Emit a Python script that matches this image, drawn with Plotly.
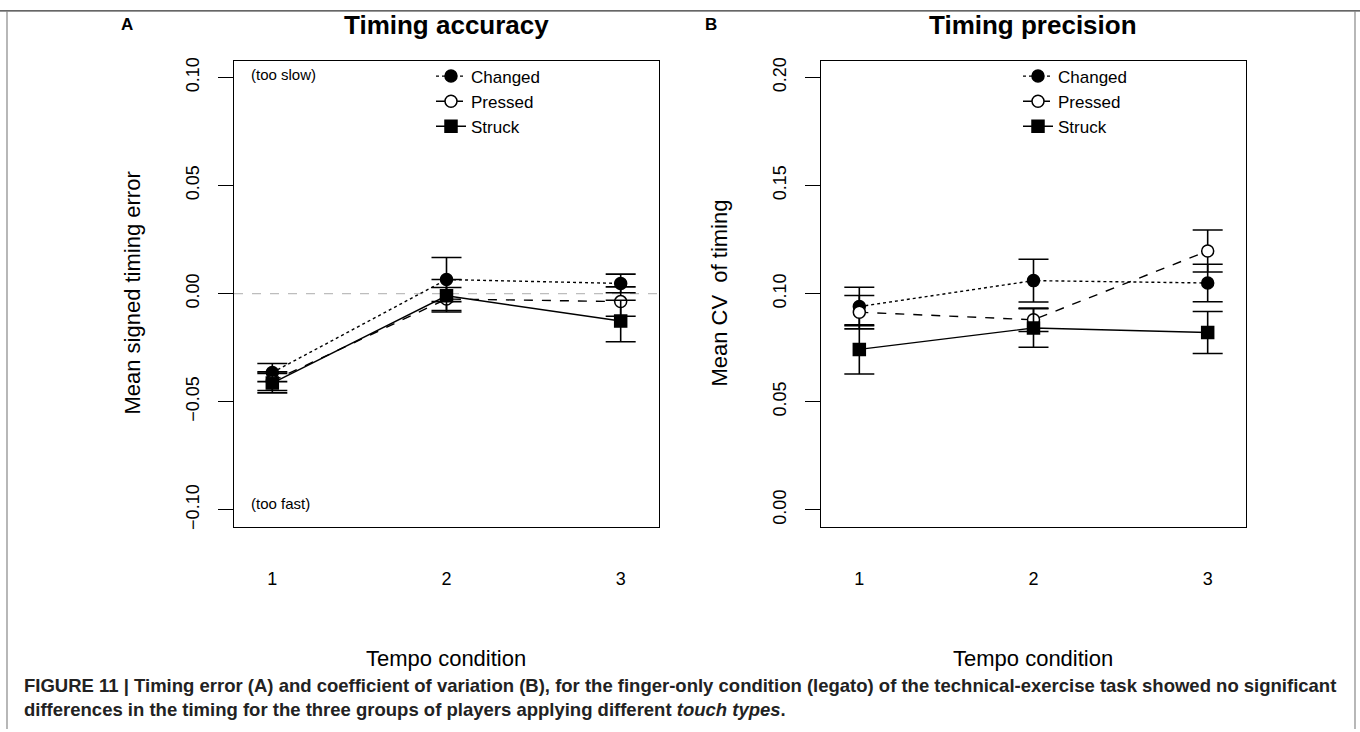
import plotly.graph_objects as go

# ---------------- data ----------------
tempo = [1, 2, 3]
tick_x = ["1", "2", "3"]

acc_changed = [-0.0365, 0.0065, 0.0047]
acc_changed_err = [0.0042, 0.0102, 0.0043]
acc_pressed = [-0.0405, -0.0025, -0.0037]
acc_pressed_err = [0.0043, 0.0053, 0.0068]
acc_struck = [-0.0414, -0.0010, -0.0127]
acc_struck_err = [0.0045, 0.0075, 0.0096]

prec_changed = [0.0940, 0.1060, 0.1049]
prec_changed_err = [0.0089, 0.0099, 0.0087]
prec_pressed = [0.0914, 0.0879, 0.1197]
prec_pressed_err = [0.0077, 0.0054, 0.0097]
prec_struck = [0.0742, 0.0841, 0.0820]
prec_struck_err = [0.0114, 0.0089, 0.0097]

acc_ticks = [-0.10, -0.05, 0.00, 0.05, 0.10]
acc_ticktext = ["\u22120.10", "\u22120.05", "0.00", "0.05", "0.10"]
prec_ticks = [0.00, 0.05, 0.10, 0.15, 0.20]
prec_ticktext = ["0.00", "0.05", "0.10", "0.15", "0.20"]

series_names = ["Changed", "Pressed", "Struck"]

# ---------------- styling ----------------
FONT = "Liberation Sans, Arial, Helvetica, sans-serif"
styles = {
    "Changed": dict(dash="dot", symbol="circle", fill="black"),
    "Pressed": dict(dash="dash", symbol="circle", fill="white"),
    "Struck": dict(dash="solid", symbol="square", fill="black"),
}

fig = go.Figure()


def add_series(name, y, err, xa, ya, legend):
    st = styles[name]
    fig.add_trace(go.Scatter(
        x=tempo, y=y, name=name, mode="lines+markers",
        xaxis=xa, yaxis=ya, legend=legend,
        line=dict(color="black", width=1.4, dash=st["dash"]),
        marker=dict(symbol=st["symbol"], size=12, color=st["fill"],
                    line=dict(color="black", width=1.5)),
        error_y=dict(type="data", array=err, visible=True, color="black",
                     thickness=1.6, width=15),
    ))


add_series("Changed", acc_changed, acc_changed_err, "x", "y", "legend")
add_series("Pressed", acc_pressed, acc_pressed_err, "x", "y", "legend")
add_series("Struck", acc_struck, acc_struck_err, "x", "y", "legend")
add_series("Changed", prec_changed, prec_changed_err, "x2", "y2", "legend2")
add_series("Pressed", prec_pressed, prec_pressed_err, "x2", "y2", "legend2")
add_series("Struck", prec_struck, prec_struck_err, "x2", "y2", "legend2")

W, H = 1360, 732
ydom = [(H - 528) / H, (H - 58) / H]
xdomA = [234 / W, 659 / W]
xdomB = [821 / W, 1246 / W]

xaxis_common = dict(
    range=[0.78, 3.22], tickvals=tempo, ticktext=tick_x,
    showline=True, mirror=True, linecolor="black", linewidth=1.4,
    ticks="", showgrid=False, zeroline=False,
    tickfont=dict(family=FONT, size=18, color="black"),
    ticklabelstandoff=36,
)
yaxis_common = dict(
    showline=True, mirror=True, linecolor="black", linewidth=1.4,
    ticks="outside", ticklen=15, tickwidth=1.3, tickcolor="black",
    showgrid=False, zeroline=False, tickangle=-90,
    tickfont=dict(family=FONT, size=18, color="black"),
    ticklabelstandoff=12,
)

fig.update_layout(
    width=W, height=H,
    margin=dict(l=0, r=0, t=0, b=0),
    paper_bgcolor="white", plot_bgcolor="white",
    font=dict(family=FONT, color="black"),
    xaxis=dict(domain=xdomA, anchor="y", **xaxis_common),
    yaxis=dict(domain=ydom, anchor="x", range=[-0.1078, 0.1078],
               tickvals=acc_ticks, ticktext=acc_ticktext, **yaxis_common),
    xaxis2=dict(domain=xdomB, anchor="y2", **xaxis_common),
    yaxis2=dict(domain=ydom, anchor="x2", range=[-0.0078, 0.2078],
                tickvals=prec_ticks, ticktext=prec_ticktext, **yaxis_common),
    legend=dict(x=431 / W, y=(H - 56) / H, xanchor="left", yanchor="top",
                bgcolor="rgba(0,0,0,0)", font=dict(family=FONT, size=17),
                itemwidth=30, tracegroupgap=0),
    legend2=dict(x=1018 / W, y=(H - 56) / H, xanchor="left", yanchor="top",
                 bgcolor="rgba(0,0,0,0)", font=dict(family=FONT, size=17),
                 itemwidth=30, tracegroupgap=0),
    showlegend=True,
)

# zero reference line in panel A
fig.add_shape(type="line", xref="x domain", yref="y", x0=0, x1=1, y0=0, y1=0,
              line=dict(color="#bdbdbd", width=1.4, dash="dash"), layer="below")

# frame lines of the figure page
fig.add_shape(type="line", xref="paper", yref="paper", x0=0, x1=1,
              y0=(H - 8) / H, y1=(H - 8) / H, line=dict(color="#333333", width=1.2))
fig.add_shape(type="line", xref="paper", yref="paper", x0=7 / W, x1=7 / W,
              y0=0, y1=(H - 8) / H, line=dict(color="#888888", width=1.2))
fig.add_shape(type="line", xref="paper", yref="paper", x0=1355 / W, x1=1355 / W,
              y0=0, y1=(H - 8) / H, line=dict(color="#888888", width=1.2))

ann = []
# titles
ann.append(dict(text="<b>Timing accuracy</b>", x=446 / W, y=(H - 22) / H,
                xref="paper", yref="paper", showarrow=False,
                font=dict(family=FONT, size=26), xanchor="center", yanchor="middle"))
ann.append(dict(text="<b>Timing precision</b>", x=1033 / W, y=(H - 22) / H,
                xref="paper", yref="paper", showarrow=False,
                font=dict(family=FONT, size=26), xanchor="center", yanchor="middle"))
ann.append(dict(text="<b>A</b>", x=127 / W, y=(H - 22) / H, xref="paper", yref="paper",
                showarrow=False, font=dict(family=FONT, size=17),
                xanchor="center", yanchor="middle"))
ann.append(dict(text="<b>B</b>", x=711 / W, y=(H - 22) / H, xref="paper", yref="paper",
                showarrow=False, font=dict(family=FONT, size=17),
                xanchor="center", yanchor="middle"))
# axis titles
ann.append(dict(text="Mean signed timing error", x=133 / W, y=(H - 293) / H,
                xref="paper", yref="paper", showarrow=False, textangle=-90,
                font=dict(family=FONT, size=22), xanchor="center", yanchor="middle"))
ann.append(dict(text="Mean CV  of timing", x=720 / W, y=(H - 293) / H,
                xref="paper", yref="paper", showarrow=False, textangle=-90,
                font=dict(family=FONT, size=22), xanchor="center", yanchor="middle"))
ann.append(dict(text="Tempo condition", x=446 / W, y=(H - 661) / H,
                xref="paper", yref="paper", showarrow=False,
                font=dict(family=FONT, size=22), xanchor="center", yanchor="middle"))
ann.append(dict(text="Tempo condition", x=1033 / W, y=(H - 661) / H,
                xref="paper", yref="paper", showarrow=False,
                font=dict(family=FONT, size=22), xanchor="center", yanchor="middle"))
# corner notes
ann.append(dict(text="(too slow)", x=249 / W, y=(H - 72) / H, xref="paper", yref="paper",
                showarrow=False, font=dict(family=FONT, size=15),
                xanchor="left", yanchor="middle"))
ann.append(dict(text="(too fast)", x=249 / W, y=(H - 505) / H, xref="paper", yref="paper",
                showarrow=False, font=dict(family=FONT, size=15),
                xanchor="left", yanchor="middle"))
# caption
ann.append(dict(text="<b>FIGURE 11 | Timing error (A) and coefficient of variation (B), for the "
                "finger-only condition (legato) of the technical-exercise task showed no significant</b>",
                x=22 / W, y=(H - 688) / H, xref="paper", yref="paper", showarrow=False,
                font=dict(family=FONT, size=18.5, color="#222222"),
                xanchor="left", yanchor="middle"))
ann.append(dict(text="<b>differences in the timing for the three groups of players applying "
                "different <i>touch types</i>.</b>",
                x=22 / W, y=(H - 712) / H, xref="paper", yref="paper", showarrow=False,
                font=dict(family=FONT, size=18.5, color="#222222"),
                xanchor="left", yanchor="middle"))
fig.update_layout(annotations=ann)

fig.write_html("out.html",
               config={"displayModeBar": False},
               post_script="document.body.style.margin='0';"
                           "document.body.style.padding='0';"
                           "document.body.style.overflow='hidden';")
